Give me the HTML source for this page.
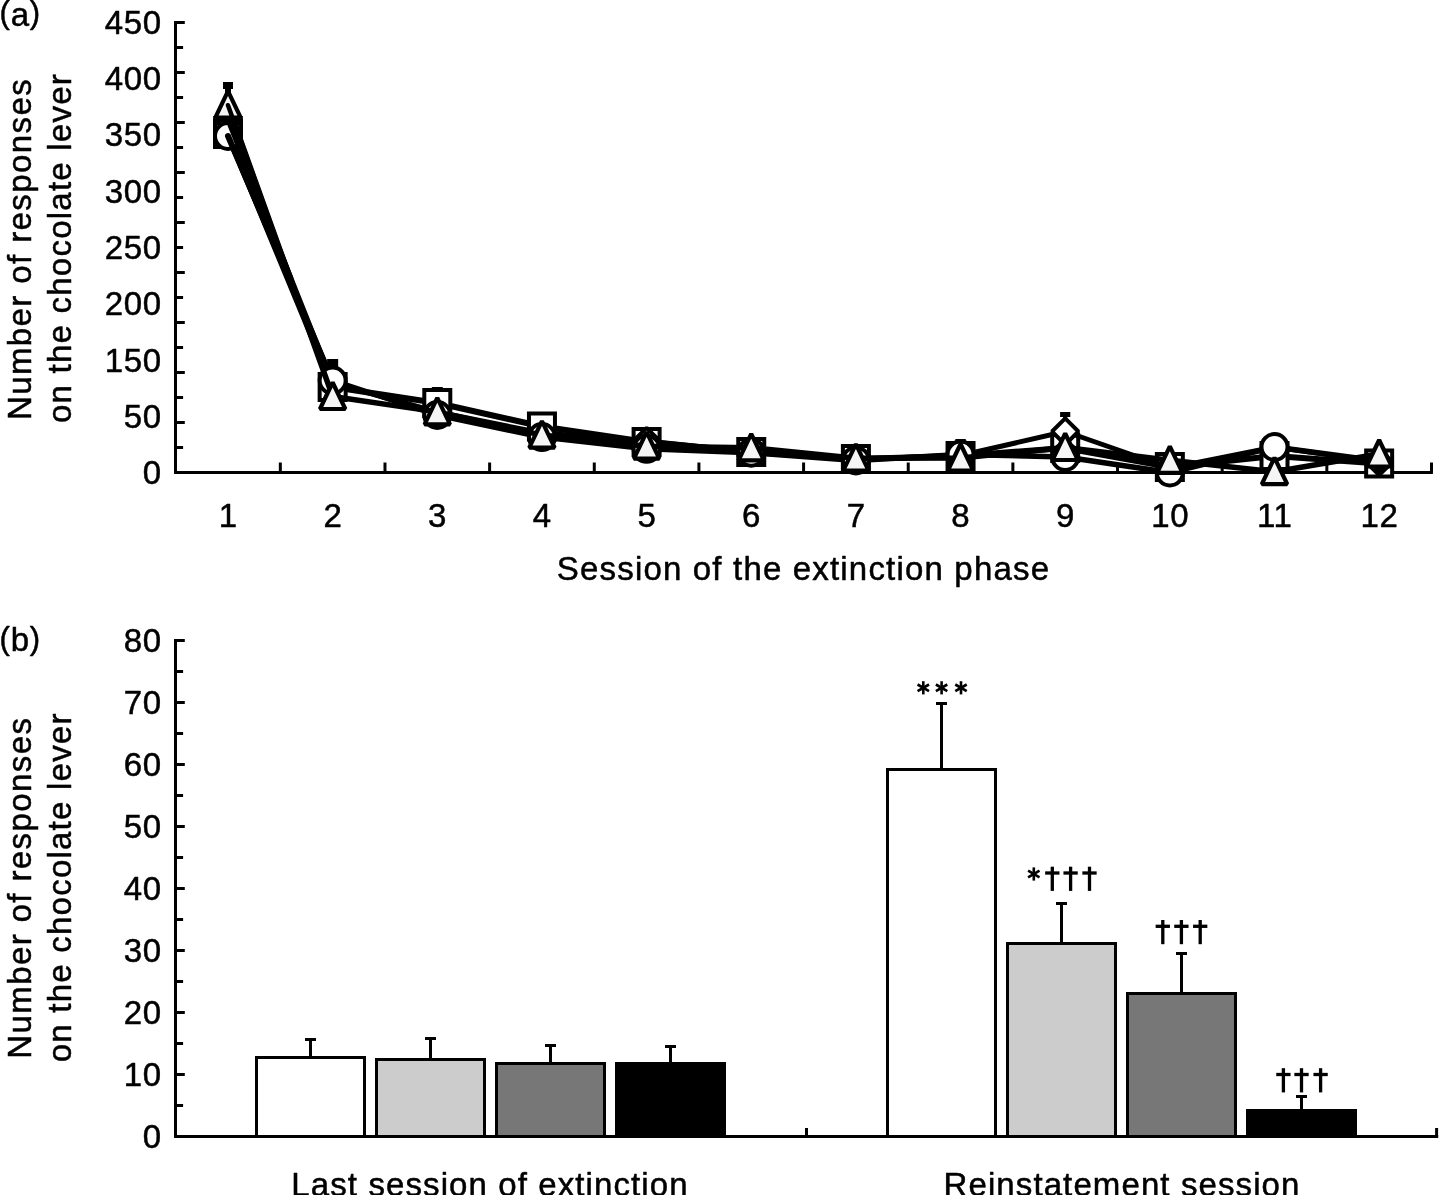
<!DOCTYPE html>
<html><head><meta charset="utf-8"><title>Figure</title>
<style>
html,body{margin:0;padding:0;background:#fff;}
body{width:1439px;height:1195px;overflow:hidden;font-family:"Liberation Sans",sans-serif;}
svg{display:block;filter:grayscale(1);}
</style></head><body>
<svg width="1439" height="1195" viewBox="0 0 1439 1195">
<rect x="0" y="0" width="1439" height="1195" fill="#fff"/>
<line x1="175.50" y1="21.00" x2="175.50" y2="474.00" stroke="#000" stroke-width="3" />
<line x1="174.00" y1="472.50" x2="1432.90" y2="472.50" stroke="#000" stroke-width="3" />
<line x1="175.50" y1="22.50" x2="184.80" y2="22.50" stroke="#000" stroke-width="3" />
<line x1="175.50" y1="47.50" x2="183.10" y2="47.50" stroke="#000" stroke-width="3" />
<line x1="175.50" y1="72.50" x2="184.80" y2="72.50" stroke="#000" stroke-width="3" />
<line x1="175.50" y1="97.50" x2="183.10" y2="97.50" stroke="#000" stroke-width="3" />
<line x1="175.50" y1="122.50" x2="184.80" y2="122.50" stroke="#000" stroke-width="3" />
<line x1="175.50" y1="147.50" x2="183.10" y2="147.50" stroke="#000" stroke-width="3" />
<line x1="175.50" y1="172.50" x2="184.80" y2="172.50" stroke="#000" stroke-width="3" />
<line x1="175.50" y1="197.50" x2="183.10" y2="197.50" stroke="#000" stroke-width="3" />
<line x1="175.50" y1="222.50" x2="184.80" y2="222.50" stroke="#000" stroke-width="3" />
<line x1="175.50" y1="247.50" x2="183.10" y2="247.50" stroke="#000" stroke-width="3" />
<line x1="175.50" y1="272.50" x2="184.80" y2="272.50" stroke="#000" stroke-width="3" />
<line x1="175.50" y1="297.50" x2="183.10" y2="297.50" stroke="#000" stroke-width="3" />
<line x1="175.50" y1="322.50" x2="184.80" y2="322.50" stroke="#000" stroke-width="3" />
<line x1="175.50" y1="347.50" x2="183.10" y2="347.50" stroke="#000" stroke-width="3" />
<line x1="175.50" y1="372.50" x2="184.80" y2="372.50" stroke="#000" stroke-width="3" />
<line x1="175.50" y1="397.50" x2="183.10" y2="397.50" stroke="#000" stroke-width="3" />
<line x1="175.50" y1="422.50" x2="184.80" y2="422.50" stroke="#000" stroke-width="3" />
<line x1="175.50" y1="447.50" x2="183.10" y2="447.50" stroke="#000" stroke-width="3" />
<line x1="280.32" y1="472.50" x2="280.32" y2="462.50" stroke="#000" stroke-width="3" />
<line x1="384.98" y1="472.50" x2="384.98" y2="462.50" stroke="#000" stroke-width="3" />
<line x1="489.62" y1="472.50" x2="489.62" y2="462.50" stroke="#000" stroke-width="3" />
<line x1="594.28" y1="472.50" x2="594.28" y2="462.50" stroke="#000" stroke-width="3" />
<line x1="698.92" y1="472.50" x2="698.92" y2="462.50" stroke="#000" stroke-width="3" />
<line x1="803.58" y1="472.50" x2="803.58" y2="462.50" stroke="#000" stroke-width="3" />
<line x1="908.23" y1="472.50" x2="908.23" y2="462.50" stroke="#000" stroke-width="3" />
<line x1="1012.88" y1="472.50" x2="1012.88" y2="462.50" stroke="#000" stroke-width="3" />
<line x1="1117.53" y1="472.50" x2="1117.53" y2="462.50" stroke="#000" stroke-width="3" />
<line x1="1222.18" y1="472.50" x2="1222.18" y2="462.50" stroke="#000" stroke-width="3" />
<line x1="1326.83" y1="472.50" x2="1326.83" y2="462.50" stroke="#000" stroke-width="3" />
<line x1="1431.48" y1="472.50" x2="1431.48" y2="462.50" stroke="#000" stroke-width="3" />
<text x="161.90" y="33.80" font-size="33" text-anchor="end" letter-spacing="0.7" font-family="Liberation Sans, sans-serif" stroke="#000" stroke-width="0.5" stroke-linejoin="round" fill="#000" >450</text>
<text x="161.90" y="90.10" font-size="33" text-anchor="end" letter-spacing="0.7" font-family="Liberation Sans, sans-serif" stroke="#000" stroke-width="0.5" stroke-linejoin="round" fill="#000" >400</text>
<text x="161.90" y="146.40" font-size="33" text-anchor="end" letter-spacing="0.7" font-family="Liberation Sans, sans-serif" stroke="#000" stroke-width="0.5" stroke-linejoin="round" fill="#000" >350</text>
<text x="161.90" y="202.70" font-size="33" text-anchor="end" letter-spacing="0.7" font-family="Liberation Sans, sans-serif" stroke="#000" stroke-width="0.5" stroke-linejoin="round" fill="#000" >300</text>
<text x="161.90" y="259.00" font-size="33" text-anchor="end" letter-spacing="0.7" font-family="Liberation Sans, sans-serif" stroke="#000" stroke-width="0.5" stroke-linejoin="round" fill="#000" >250</text>
<text x="161.90" y="315.30" font-size="33" text-anchor="end" letter-spacing="0.7" font-family="Liberation Sans, sans-serif" stroke="#000" stroke-width="0.5" stroke-linejoin="round" fill="#000" >200</text>
<text x="161.90" y="371.60" font-size="33" text-anchor="end" letter-spacing="0.7" font-family="Liberation Sans, sans-serif" stroke="#000" stroke-width="0.5" stroke-linejoin="round" fill="#000" >150</text>
<text x="161.90" y="427.90" font-size="33" text-anchor="end" letter-spacing="0.7" font-family="Liberation Sans, sans-serif" stroke="#000" stroke-width="0.5" stroke-linejoin="round" fill="#000" >50</text>
<text x="161.90" y="484.20" font-size="33" text-anchor="end" letter-spacing="0.7" font-family="Liberation Sans, sans-serif" stroke="#000" stroke-width="0.5" stroke-linejoin="round" fill="#000" >0</text>
<text x="228.30" y="527.30" font-size="33" text-anchor="middle" letter-spacing="0.6" font-family="Liberation Sans, sans-serif" stroke="#000" stroke-width="0.5" stroke-linejoin="round" fill="#000" >1</text>
<text x="332.95" y="527.30" font-size="33" text-anchor="middle" letter-spacing="0.6" font-family="Liberation Sans, sans-serif" stroke="#000" stroke-width="0.5" stroke-linejoin="round" fill="#000" >2</text>
<text x="437.60" y="527.30" font-size="33" text-anchor="middle" letter-spacing="0.6" font-family="Liberation Sans, sans-serif" stroke="#000" stroke-width="0.5" stroke-linejoin="round" fill="#000" >3</text>
<text x="542.25" y="527.30" font-size="33" text-anchor="middle" letter-spacing="0.6" font-family="Liberation Sans, sans-serif" stroke="#000" stroke-width="0.5" stroke-linejoin="round" fill="#000" >4</text>
<text x="646.90" y="527.30" font-size="33" text-anchor="middle" letter-spacing="0.6" font-family="Liberation Sans, sans-serif" stroke="#000" stroke-width="0.5" stroke-linejoin="round" fill="#000" >5</text>
<text x="751.55" y="527.30" font-size="33" text-anchor="middle" letter-spacing="0.6" font-family="Liberation Sans, sans-serif" stroke="#000" stroke-width="0.5" stroke-linejoin="round" fill="#000" >6</text>
<text x="856.20" y="527.30" font-size="33" text-anchor="middle" letter-spacing="0.6" font-family="Liberation Sans, sans-serif" stroke="#000" stroke-width="0.5" stroke-linejoin="round" fill="#000" >7</text>
<text x="960.85" y="527.30" font-size="33" text-anchor="middle" letter-spacing="0.6" font-family="Liberation Sans, sans-serif" stroke="#000" stroke-width="0.5" stroke-linejoin="round" fill="#000" >8</text>
<text x="1065.50" y="527.30" font-size="33" text-anchor="middle" letter-spacing="0.6" font-family="Liberation Sans, sans-serif" stroke="#000" stroke-width="0.5" stroke-linejoin="round" fill="#000" >9</text>
<text x="1170.15" y="527.30" font-size="33" text-anchor="middle" letter-spacing="0.6" font-family="Liberation Sans, sans-serif" stroke="#000" stroke-width="0.5" stroke-linejoin="round" fill="#000" >10</text>
<text x="1274.80" y="527.30" font-size="33" text-anchor="middle" letter-spacing="0.6" font-family="Liberation Sans, sans-serif" stroke="#000" stroke-width="0.5" stroke-linejoin="round" fill="#000" >11</text>
<text x="1379.45" y="527.30" font-size="33" text-anchor="middle" letter-spacing="0.6" font-family="Liberation Sans, sans-serif" stroke="#000" stroke-width="0.5" stroke-linejoin="round" fill="#000" >12</text>
<text x="803.50" y="580.00" font-size="33" text-anchor="middle" letter-spacing="1.18" font-family="Liberation Sans, sans-serif" stroke="#000" stroke-width="0.5" stroke-linejoin="round" fill="#000" >Session of the extinction phase</text>
<text x="-0.5" y="25.8" font-size="33" font-family="Liberation Sans, sans-serif" stroke="#000" stroke-width="0.5" stroke-linejoin="round" fill="#000"><tspan font-size="31" dy="-3.0">(</tspan><tspan dy="3.0" dx="0.8">a</tspan><tspan font-size="31" dy="-3.0" dx="0.8">)</tspan></text>
<text transform="translate(30.8,249) rotate(-90)" font-size="33" text-anchor="middle" letter-spacing="1.4" font-family="Liberation Sans, sans-serif" stroke="#000" stroke-width="0.5" stroke-linejoin="round">Number of responses</text>
<text transform="translate(70.5,248) rotate(-90)" font-size="33" text-anchor="middle" letter-spacing="1.23" font-family="Liberation Sans, sans-serif" stroke="#000" stroke-width="0.5" stroke-linejoin="round">on the chocolate lever</text>
<rect x="223.00" y="82.00" width="10.00" height="7.00" fill="#000"/>
<rect x="225.00" y="82.00" width="6.00" height="18.00" fill="#000"/>
<rect x="327.15" y="359.00" width="11.00" height="8.50" fill="#000"/>
<rect x="330.65" y="359.00" width="4.00" height="16.00" fill="#000"/>
<rect x="431.80" y="387.00" width="11.00" height="4.00" fill="#000"/>
<rect x="435.30" y="387.00" width="4.00" height="8.00" fill="#000"/>
<rect x="955.35" y="439.00" width="10.40" height="4.00" fill="#000"/>
<rect x="958.55" y="439.00" width="4.00" height="7.00" fill="#000"/>
<rect x="1060.10" y="412.00" width="10.20" height="5.00" fill="#000"/>
<rect x="1063.20" y="412.00" width="4.00" height="13.00" fill="#000"/>
<polyline points="228.00,134.00 332.65,387.00 437.30,403.00 541.95,426.50 646.60,442.00 751.25,452.00 855.90,459.00 960.55,456.00 1065.20,448.00 1169.85,467.00 1274.50,456.00 1379.15,463.50" fill="none" stroke="#000" stroke-width="6" stroke-linejoin="round" stroke-linecap="round"/>
<rect x="215.00" y="121.00" width="26" height="26" fill="#fff" stroke="#000" stroke-width="4"/>
<rect x="319.65" y="374.00" width="26" height="26" fill="#fff" stroke="#000" stroke-width="4"/>
<rect x="424.30" y="390.00" width="26" height="26" fill="#fff" stroke="#000" stroke-width="4"/>
<rect x="528.95" y="413.50" width="26" height="26" fill="#fff" stroke="#000" stroke-width="4"/>
<rect x="633.60" y="429.00" width="26" height="26" fill="#fff" stroke="#000" stroke-width="4"/>
<rect x="738.25" y="439.00" width="26" height="26" fill="#fff" stroke="#000" stroke-width="4"/>
<rect x="842.90" y="446.00" width="26" height="26" fill="#fff" stroke="#000" stroke-width="4"/>
<rect x="947.55" y="443.00" width="26" height="26" fill="#fff" stroke="#000" stroke-width="4"/>
<rect x="1052.20" y="435.00" width="26" height="26" fill="#fff" stroke="#000" stroke-width="4"/>
<rect x="1156.85" y="454.00" width="26" height="26" fill="#fff" stroke="#000" stroke-width="4"/>
<rect x="1261.50" y="443.00" width="26" height="26" fill="#fff" stroke="#000" stroke-width="4"/>
<rect x="1366.15" y="450.50" width="26" height="26" fill="#fff" stroke="#000" stroke-width="4"/>
<polyline points="228.00,120.00 332.65,383.00 437.30,412.00 541.95,433.00 646.60,441.00 751.25,452.00 855.90,459.00 960.55,455.50 1065.20,431.50 1169.85,468.00 1274.50,447.00 1379.15,462.00" fill="none" stroke="#000" stroke-width="5" stroke-linejoin="round" stroke-linecap="round"/>
<polygon points="228.00,106.80 241.20,120.00 228.00,133.20 214.80,120.00" fill="#fff" stroke="#000" stroke-width="4" stroke-linejoin="bevel"/>
<polygon points="646.60,427.80 659.80,441.00 646.60,454.20 633.40,441.00" fill="#fff" stroke="#000" stroke-width="4" stroke-linejoin="bevel"/>
<polygon points="751.25,438.80 764.45,452.00 751.25,465.20 738.05,452.00" fill="#fff" stroke="#000" stroke-width="4" stroke-linejoin="bevel"/>
<polygon points="855.90,445.80 869.10,459.00 855.90,472.20 842.70,459.00" fill="#fff" stroke="#000" stroke-width="4" stroke-linejoin="bevel"/>
<polygon points="1065.20,418.30 1078.40,431.50 1065.20,444.70 1052.00,431.50" fill="#fff" stroke="#000" stroke-width="4" stroke-linejoin="bevel"/>
<polygon points="1379.15,448.80 1392.35,462.00 1379.15,475.20 1365.95,462.00" fill="#000" stroke="#000" stroke-width="4" stroke-linejoin="bevel"/>
<polyline points="228.00,136.00 332.65,380.50 437.30,415.00 541.95,437.10 646.60,448.80 751.25,452.70 855.90,460.40 960.55,454.50 1065.20,457.00 1169.85,472.50 1274.50,447.00 1379.15,461.00" fill="none" stroke="#000" stroke-width="5.5" stroke-linejoin="round" stroke-linecap="round"/>
<circle cx="228.00" cy="136.00" r="13" fill="#fff" stroke="#000" stroke-width="4"/>
<circle cx="332.65" cy="380.50" r="13" fill="#fff" stroke="#000" stroke-width="4"/>
<circle cx="437.30" cy="415.00" r="13" fill="#fff" stroke="#000" stroke-width="4"/>
<circle cx="541.95" cy="437.10" r="13" fill="#fff" stroke="#000" stroke-width="4"/>
<circle cx="646.60" cy="448.80" r="13" fill="#fff" stroke="#000" stroke-width="4"/>
<circle cx="751.25" cy="452.70" r="13" fill="#fff" stroke="#000" stroke-width="4"/>
<circle cx="855.90" cy="460.40" r="13" fill="#fff" stroke="#000" stroke-width="4"/>
<circle cx="960.55" cy="454.50" r="13" fill="#fff" stroke="#000" stroke-width="4"/>
<circle cx="1065.20" cy="457.00" r="13" fill="#fff" stroke="#000" stroke-width="4"/>
<circle cx="1169.85" cy="472.50" r="13" fill="#fff" stroke="#000" stroke-width="4"/>
<circle cx="1274.50" cy="447.00" r="13" fill="#fff" stroke="#000" stroke-width="4"/>
<polyline points="228.00,105.20 332.65,396.50 437.30,411.90 541.95,435.10 646.60,446.20 751.25,447.80 855.90,458.20 960.55,458.00 1065.20,447.50 1169.85,460.30 1274.50,471.70 1379.15,454.00" fill="none" stroke="#000" stroke-width="5.5" stroke-linejoin="round" stroke-linecap="round"/>
<polygon points="228.00,91.20 240.70,117.70 215.30,117.70" fill="#f5f5f5" stroke="#000" stroke-width="4.2" stroke-linejoin="bevel"/>
<polygon points="332.65,382.50 345.35,409.00 319.95,409.00" fill="#f5f5f5" stroke="#000" stroke-width="4.2" stroke-linejoin="bevel"/>
<polygon points="437.30,397.90 450.00,424.40 424.60,424.40" fill="#f5f5f5" stroke="#000" stroke-width="4.2" stroke-linejoin="bevel"/>
<polygon points="541.95,421.10 554.65,447.60 529.25,447.60" fill="#f5f5f5" stroke="#000" stroke-width="4.2" stroke-linejoin="bevel"/>
<polygon points="646.60,432.20 659.30,458.70 633.90,458.70" fill="#f5f5f5" stroke="#000" stroke-width="4.2" stroke-linejoin="bevel"/>
<polygon points="751.25,433.80 763.95,460.30 738.55,460.30" fill="#f5f5f5" stroke="#000" stroke-width="4.2" stroke-linejoin="bevel"/>
<polygon points="855.90,444.20 868.60,470.70 843.20,470.70" fill="#f5f5f5" stroke="#000" stroke-width="4.2" stroke-linejoin="bevel"/>
<polygon points="960.55,444.00 973.25,470.50 947.85,470.50" fill="#f5f5f5" stroke="#000" stroke-width="4.2" stroke-linejoin="bevel"/>
<polygon points="1065.20,433.50 1077.90,460.00 1052.50,460.00" fill="#f5f5f5" stroke="#000" stroke-width="4.2" stroke-linejoin="bevel"/>
<polygon points="1169.85,446.30 1182.55,472.80 1157.15,472.80" fill="#f5f5f5" stroke="#000" stroke-width="4.2" stroke-linejoin="bevel"/>
<polygon points="1274.50,457.70 1287.20,484.20 1261.80,484.20" fill="#f5f5f5" stroke="#000" stroke-width="4.2" stroke-linejoin="bevel"/>
<polygon points="1379.15,440.00 1391.85,466.50 1366.45,466.50" fill="#f5f5f5" stroke="#000" stroke-width="4.2" stroke-linejoin="bevel"/>
<rect x="213.20" y="116.00" width="29.60" height="8.00" fill="#000"/>
<line x1="228.00" y1="105.20" x2="290.79" y2="279.98" stroke="#000" stroke-width="4.5" stroke-linecap="round"/>
<line x1="228.00" y1="120.00" x2="290.79" y2="277.80" stroke="#000" stroke-width="5" stroke-linecap="round"/>
<line x1="228.00" y1="136.00" x2="290.79" y2="282.70" stroke="#000" stroke-width="6" stroke-linecap="round"/>
<line x1="175.50" y1="639.00" x2="175.50" y2="1138.00" stroke="#000" stroke-width="3" />
<line x1="174.00" y1="1136.50" x2="1438.20" y2="1136.50" stroke="#000" stroke-width="3" />
<line x1="175.50" y1="640.50" x2="184.80" y2="640.50" stroke="#000" stroke-width="3" />
<line x1="175.50" y1="671.50" x2="183.10" y2="671.50" stroke="#000" stroke-width="3" />
<line x1="175.50" y1="702.50" x2="184.80" y2="702.50" stroke="#000" stroke-width="3" />
<line x1="175.50" y1="733.50" x2="183.10" y2="733.50" stroke="#000" stroke-width="3" />
<line x1="175.50" y1="764.50" x2="184.80" y2="764.50" stroke="#000" stroke-width="3" />
<line x1="175.50" y1="795.50" x2="183.10" y2="795.50" stroke="#000" stroke-width="3" />
<line x1="175.50" y1="826.50" x2="184.80" y2="826.50" stroke="#000" stroke-width="3" />
<line x1="175.50" y1="857.50" x2="183.10" y2="857.50" stroke="#000" stroke-width="3" />
<line x1="175.50" y1="888.50" x2="184.80" y2="888.50" stroke="#000" stroke-width="3" />
<line x1="175.50" y1="919.50" x2="183.10" y2="919.50" stroke="#000" stroke-width="3" />
<line x1="175.50" y1="950.50" x2="184.80" y2="950.50" stroke="#000" stroke-width="3" />
<line x1="175.50" y1="981.50" x2="183.10" y2="981.50" stroke="#000" stroke-width="3" />
<line x1="175.50" y1="1012.50" x2="184.80" y2="1012.50" stroke="#000" stroke-width="3" />
<line x1="175.50" y1="1043.50" x2="183.10" y2="1043.50" stroke="#000" stroke-width="3" />
<line x1="175.50" y1="1074.50" x2="184.80" y2="1074.50" stroke="#000" stroke-width="3" />
<line x1="175.50" y1="1105.50" x2="183.10" y2="1105.50" stroke="#000" stroke-width="3" />
<line x1="806.50" y1="1136.50" x2="806.50" y2="1128.00" stroke="#000" stroke-width="3" />
<line x1="1436.60" y1="1136.50" x2="1436.60" y2="1128.00" stroke="#000" stroke-width="3" />
<text x="161.90" y="651.90" font-size="33" text-anchor="end" letter-spacing="0.7" font-family="Liberation Sans, sans-serif" stroke="#000" stroke-width="0.5" stroke-linejoin="round" fill="#000" >80</text>
<text x="161.90" y="713.90" font-size="33" text-anchor="end" letter-spacing="0.7" font-family="Liberation Sans, sans-serif" stroke="#000" stroke-width="0.5" stroke-linejoin="round" fill="#000" >70</text>
<text x="161.90" y="775.90" font-size="33" text-anchor="end" letter-spacing="0.7" font-family="Liberation Sans, sans-serif" stroke="#000" stroke-width="0.5" stroke-linejoin="round" fill="#000" >60</text>
<text x="161.90" y="837.90" font-size="33" text-anchor="end" letter-spacing="0.7" font-family="Liberation Sans, sans-serif" stroke="#000" stroke-width="0.5" stroke-linejoin="round" fill="#000" >50</text>
<text x="161.90" y="899.90" font-size="33" text-anchor="end" letter-spacing="0.7" font-family="Liberation Sans, sans-serif" stroke="#000" stroke-width="0.5" stroke-linejoin="round" fill="#000" >40</text>
<text x="161.90" y="961.90" font-size="33" text-anchor="end" letter-spacing="0.7" font-family="Liberation Sans, sans-serif" stroke="#000" stroke-width="0.5" stroke-linejoin="round" fill="#000" >30</text>
<text x="161.90" y="1023.90" font-size="33" text-anchor="end" letter-spacing="0.7" font-family="Liberation Sans, sans-serif" stroke="#000" stroke-width="0.5" stroke-linejoin="round" fill="#000" >20</text>
<text x="161.90" y="1085.90" font-size="33" text-anchor="end" letter-spacing="0.7" font-family="Liberation Sans, sans-serif" stroke="#000" stroke-width="0.5" stroke-linejoin="round" fill="#000" >10</text>
<text x="161.90" y="1147.90" font-size="33" text-anchor="end" letter-spacing="0.7" font-family="Liberation Sans, sans-serif" stroke="#000" stroke-width="0.5" stroke-linejoin="round" fill="#000" >0</text>
<text x="-0.5" y="650.6" font-size="33" font-family="Liberation Sans, sans-serif" stroke="#000" stroke-width="0.5" stroke-linejoin="round" fill="#000"><tspan font-size="31" dy="-1.3">(</tspan><tspan dy="1.3" dx="0.8">b</tspan><tspan font-size="31" dy="-1.3" dx="0.8">)</tspan></text>
<text transform="translate(30.8,887.7) rotate(-90)" font-size="33" text-anchor="middle" letter-spacing="1.4" font-family="Liberation Sans, sans-serif" stroke="#000" stroke-width="0.5" stroke-linejoin="round">Number of responses</text>
<text transform="translate(70.5,887.3) rotate(-90)" font-size="33" text-anchor="middle" letter-spacing="1.23" font-family="Liberation Sans, sans-serif" stroke="#000" stroke-width="0.5" stroke-linejoin="round">on the chocolate lever</text>
<text x="490.00" y="1195.50" font-size="33" text-anchor="middle" letter-spacing="1.1" font-family="Liberation Sans, sans-serif" stroke="#000" stroke-width="0.5" stroke-linejoin="round" fill="#000" >Last session of extinction</text>
<text x="1122.00" y="1195.50" font-size="33" text-anchor="middle" letter-spacing="1.1" font-family="Liberation Sans, sans-serif" stroke="#000" stroke-width="0.5" stroke-linejoin="round" fill="#000" >Reinstatement session</text>
<rect x="309.00" y="1038.00" width="3.00" height="19.00" fill="#000"/>
<rect x="305.00" y="1038.00" width="11.00" height="3.00" fill="#000"/>
<rect x="256.50" y="1057.50" width="108.00" height="79.00" fill="#ffffff" stroke="#000" stroke-width="3"/>
<rect x="429.00" y="1037.00" width="3.00" height="22.00" fill="#000"/>
<rect x="425.00" y="1037.00" width="11.00" height="3.00" fill="#000"/>
<rect x="376.50" y="1059.50" width="108.00" height="77.00" fill="#cccccc" stroke="#000" stroke-width="3"/>
<rect x="549.00" y="1044.00" width="3.00" height="19.00" fill="#000"/>
<rect x="545.00" y="1044.00" width="11.00" height="3.00" fill="#000"/>
<rect x="496.50" y="1063.50" width="108.00" height="73.00" fill="#777777" stroke="#000" stroke-width="3"/>
<rect x="669.00" y="1045.00" width="3.00" height="18.00" fill="#000"/>
<rect x="665.00" y="1045.00" width="11.00" height="3.00" fill="#000"/>
<rect x="616.50" y="1063.50" width="108.00" height="73.00" fill="#000000" stroke="#000" stroke-width="3"/>
<rect x="940.00" y="702.00" width="3.00" height="67.00" fill="#000"/>
<rect x="936.00" y="702.00" width="11.00" height="3.00" fill="#000"/>
<rect x="887.50" y="769.50" width="108.00" height="367.00" fill="#ffffff" stroke="#000" stroke-width="3"/>
<rect x="1060.00" y="902.00" width="3.00" height="41.00" fill="#000"/>
<rect x="1056.00" y="902.00" width="11.00" height="3.00" fill="#000"/>
<rect x="1007.50" y="943.50" width="108.00" height="193.00" fill="#cccccc" stroke="#000" stroke-width="3"/>
<rect x="1180.00" y="952.00" width="3.00" height="41.00" fill="#000"/>
<rect x="1176.00" y="952.00" width="11.00" height="3.00" fill="#000"/>
<rect x="1127.50" y="993.50" width="108.00" height="143.00" fill="#777777" stroke="#000" stroke-width="3"/>
<rect x="1300.00" y="1095.00" width="3.00" height="15.00" fill="#000"/>
<rect x="1296.00" y="1095.00" width="11.00" height="3.00" fill="#000"/>
<rect x="1247.50" y="1110.50" width="108.00" height="26.00" fill="#000000" stroke="#000" stroke-width="3"/>
<line x1="923.30" y1="681.20" x2="923.30" y2="694.40" stroke="#000" stroke-width="2.6" />
<line x1="917.58" y1="684.50" x2="929.02" y2="691.10" stroke="#000" stroke-width="2.6" />
<line x1="929.02" y1="684.50" x2="917.58" y2="691.10" stroke="#000" stroke-width="2.6" />
<line x1="941.60" y1="681.20" x2="941.60" y2="694.40" stroke="#000" stroke-width="2.6" />
<line x1="935.88" y1="684.50" x2="947.32" y2="691.10" stroke="#000" stroke-width="2.6" />
<line x1="947.32" y1="684.50" x2="935.88" y2="691.10" stroke="#000" stroke-width="2.6" />
<line x1="961.00" y1="681.20" x2="961.00" y2="694.40" stroke="#000" stroke-width="2.6" />
<line x1="955.28" y1="684.50" x2="966.72" y2="691.10" stroke="#000" stroke-width="2.6" />
<line x1="966.72" y1="684.50" x2="955.28" y2="691.10" stroke="#000" stroke-width="2.6" />
<line x1="1033.80" y1="867.40" x2="1033.80" y2="880.60" stroke="#000" stroke-width="2.6" />
<line x1="1028.08" y1="870.70" x2="1039.52" y2="877.30" stroke="#000" stroke-width="2.6" />
<line x1="1039.52" y1="870.70" x2="1028.08" y2="877.30" stroke="#000" stroke-width="2.6" />
<rect x="1050.65" y="866.70" width="3.30" height="24.20" fill="#000"/>
<rect x="1045.15" y="871.35" width="14.30" height="3.30" fill="#000"/>
<rect x="1068.95" y="866.70" width="3.30" height="24.20" fill="#000"/>
<rect x="1063.45" y="871.35" width="14.30" height="3.30" fill="#000"/>
<rect x="1087.85" y="866.70" width="3.30" height="24.20" fill="#000"/>
<rect x="1082.35" y="871.35" width="14.30" height="3.30" fill="#000"/>
<rect x="1161.15" y="920.00" width="3.30" height="24.20" fill="#000"/>
<rect x="1155.65" y="924.65" width="14.30" height="3.30" fill="#000"/>
<rect x="1179.75" y="920.00" width="3.30" height="24.20" fill="#000"/>
<rect x="1174.25" y="924.65" width="14.30" height="3.30" fill="#000"/>
<rect x="1198.55" y="920.00" width="3.30" height="24.20" fill="#000"/>
<rect x="1193.05" y="924.65" width="14.30" height="3.30" fill="#000"/>
<rect x="1281.75" y="1068.20" width="3.30" height="24.20" fill="#000"/>
<rect x="1276.25" y="1072.85" width="14.30" height="3.30" fill="#000"/>
<rect x="1299.85" y="1068.20" width="3.30" height="24.20" fill="#000"/>
<rect x="1294.35" y="1072.85" width="14.30" height="3.30" fill="#000"/>
<rect x="1318.95" y="1068.20" width="3.30" height="24.20" fill="#000"/>
<rect x="1313.45" y="1072.85" width="14.30" height="3.30" fill="#000"/>
</svg>
</body></html>
